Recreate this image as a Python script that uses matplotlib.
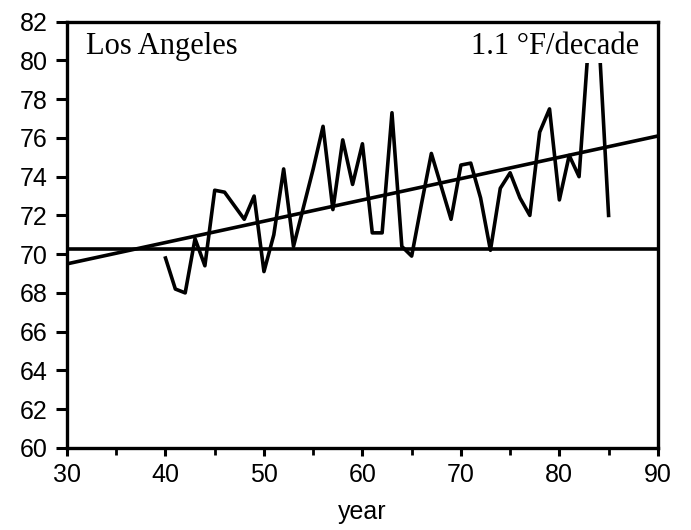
import matplotlib.pyplot as plt
from matplotlib.ticker import MultipleLocator

years = list(range(40, 86))
temps = [69.8, 68.2, 68.0, 70.8, 69.4, 73.3, 73.2, 72.5, 71.8, 73.0,
         69.1, 71.0, 74.4, 70.4, 72.4, 74.4, 76.6, 72.3, 75.9, 73.6,
         75.7, 71.1, 71.1, 77.3, 70.4, 69.9, 72.6, 75.2, 73.5, 71.8,
         74.6, 74.7, 72.9, 70.2, 73.4, 74.2, 72.9, 72.0, 76.3, 77.5,
         72.8, 75.1, 74.0, 81.2, 81.3, 72.0]

mean_level = 70.25
trend_x = [30, 90]
trend_y = [69.5, 76.1]  # 1.1 F per decade

fig = plt.figure(figsize=(6.91, 5.30), dpi=100)
ax = fig.add_axes([0.097, 0.155, 0.855, 0.804])

ax.plot(years, temps, color='black', lw=2.6, zorder=2)
ax.plot(trend_x, trend_y, color='black', lw=2.6, zorder=2)
ax.axhline(mean_level, color='black', lw=2.6, zorder=2)

ax.set_xlim(30, 90)
ax.set_ylim(60, 82)
ax.xaxis.set_major_locator(MultipleLocator(10))
ax.xaxis.set_minor_locator(MultipleLocator(5))
ax.yaxis.set_major_locator(MultipleLocator(2))

for s in ax.spines.values():
    s.set_linewidth(2.4)

ax.tick_params(axis='y', which='major', direction='out', length=8, width=2.2,
               labelsize=18, pad=6)
ax.tick_params(axis='x', which='major', direction='out', length=6, width=2.2,
               labelsize=18, pad=5)
ax.tick_params(axis='x', which='minor', direction='out', length=5, width=2)
ax.tick_params(top=False, right=False)
for lab in ax.get_xticklabels() + ax.get_yticklabels():
    lab.set_family('Liberation Sans')

ax.set_xlabel('year', fontsize=18, family='Liberation Sans', labelpad=9)

ax.text(0.032, 0.925, 'Los Angeles', transform=ax.transAxes, fontsize=22,
        family='Liberation Serif', va='baseline', ha='left')
ax.text(0.969, 0.925, '1.1 °F/decade', transform=ax.transAxes, fontsize=22,
        family='Liberation Serif', va='baseline', ha='right', zorder=3,
        bbox=dict(facecolor='white', edgecolor='none', pad=2))

fig.savefig('out.png', dpi=100)
